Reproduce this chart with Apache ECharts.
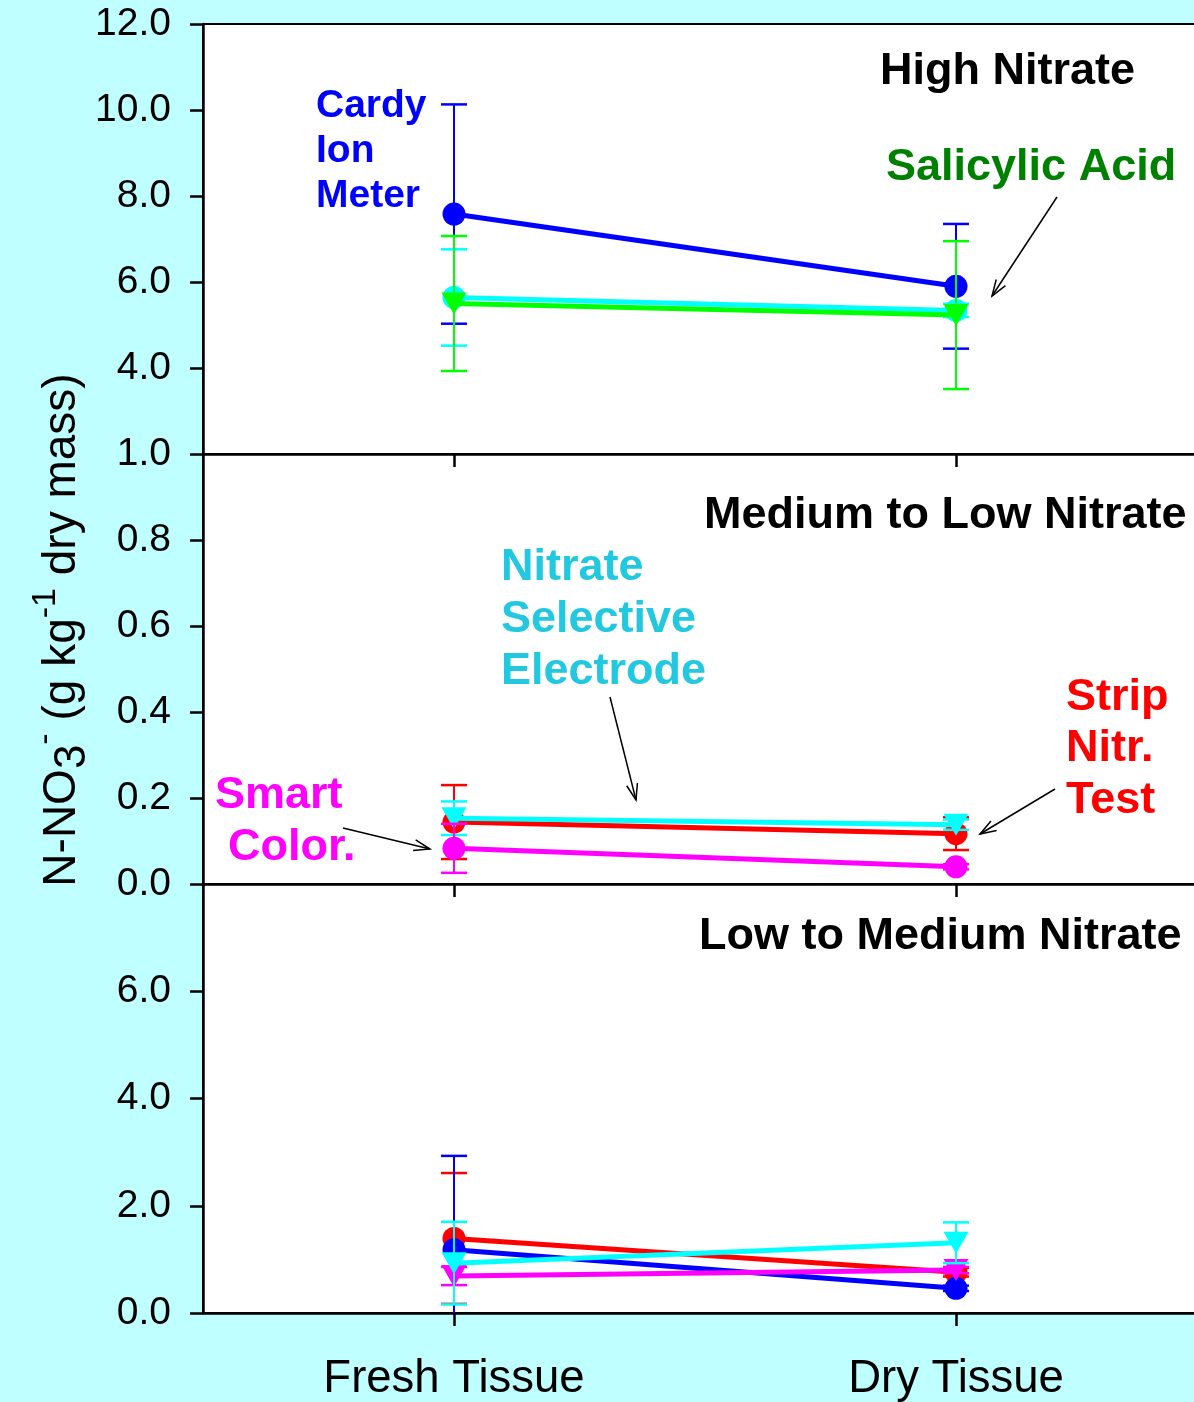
<!DOCTYPE html>
<html>
<head>
<meta charset="utf-8">
<title>N-NO3 by tissue type and method</title>
<script src="https://cdn.jsdelivr.net/npm/echarts@6/dist/echarts.min.js"></script>
<style>
  html, body { margin: 0; padding: 0; background: #bfffff; }
  #chart { width: 1194px; height: 1402px; }
</style>
</head>
<body>
<div id="chart"></div>
<script>
// Tissue categories on the x axis
const categories = ['Fresh Tissue', 'Dry Tissue'];

// Y-axis tick values per panel
const highTicks = [2, 4, 6, 8, 10, 12];
const mediumTicks = [0, 0.2, 0.4, 0.6, 0.8, 1.0];
const lowTicks = [0, 2, 4, 6, 8];

// High Nitrate panel: means and error (± half range)
const highCardy = [7.58, 5.90];
const highCardyErr = [2.55, 1.45];
const highIse = [5.64, 5.34];
const highIseErr = [1.12, 0.155];
const highSalicylic = [5.50, 5.23];
const highSalicylicErr = [1.57, 1.72];

// Medium to Low Nitrate panel
const medStrip = [0.144, 0.117];
const medStripErr = [0.086, 0.038];
const medIse = [0.153, 0.138];
const medIseErr = [0.039, 0.012];
const medSmart = [0.083, 0.040];
const medSmartErr = [0.057, 0.006];

// Low to Medium Nitrate panel
const lowStrip = [1.39, 0.76];
const lowStripErr = [1.22, 0.08];
const lowCardy = [1.18, 0.46];
const lowCardyErr = [1.75, 0.05];
const lowSmart = [0.69, 0.80];
const lowSmartErr = [0.17, 0.06];
const lowIse = [0.93, 1.31];
const lowIseErr = [0.77, 0.38];

const FONT = '"Liberation Sans", Arial, Helvetica, sans-serif';
const BLUE = '#0000ff', CYAN = '#00ffff', GREEN = '#00ff00', RED = '#ff0000', MAGENTA = '#ff00ff';

const chart = echarts.init(document.getElementById('chart'), null, { renderer: 'canvas' });

const panels = [
  { top: 24, height: 430, ticks: highTicks, showMin: false, showMax: true },
  { top: 454, height: 430, ticks: mediumTicks, showMin: true, showMax: true },
  { top: 884, height: 429, ticks: lowTicks, showMin: true, showMax: false }
];

const grids = panels.map(p => ({
  left: 203, top: p.top, width: 1004, height: p.height,
  show: true, backgroundColor: '#ffffff', borderColor: '#000000', borderWidth: 2,
  outerBoundsMode: 'none', containLabel: false
}));

const xAxes = panels.map((p, i) => ({
  type: 'category', gridIndex: i, data: categories, boundaryGap: true,
  axisLine: { show: true, lineStyle: { color: '#000', width: 2.5 } },
  axisTick: { show: true, alignWithLabel: true, length: 13, lineStyle: { color: '#000', width: 2.5 } },
  axisLabel: { show: i === 2, margin: 43, fontSize: 45.5, color: '#000', fontFamily: FONT },
  splitLine: { show: false }
}));

const yAxes = panels.map((p, i) => ({
  type: 'value', gridIndex: i,
  min: p.ticks[0], max: p.ticks[p.ticks.length - 1], interval: p.ticks[1] - p.ticks[0],
  axisLine: { show: true, lineStyle: { color: '#000', width: 2.5 } },
  axisTick: { show: true, inside: false, length: 13, lineStyle: { color: '#000', width: 2.5 } },
  axisLabel: {
    margin: 32, fontSize: 39, color: '#000', fontFamily: FONT,
    showMinLabel: p.showMin, showMaxLabel: p.showMax,
    formatter: v => v.toFixed(1)
  },
  splitLine: { show: false }
}));

// Vertical error bar with caps; the lower end is clipped to the axis minimum
function errorBars(color, axisMin) {
  return function (params, api) {
    const x = api.value(0), v = api.value(1), e = api.value(2);
    const hi = api.coord([x, v + e]);
    const lowVal = v - e;
    const lo = api.coord([x, Math.max(lowVal, axisMin)]);
    const half = 13;
    const st = { stroke: color, lineWidth: 2.5 };
    const children = [
      { type: 'line', shape: { x1: hi[0], y1: hi[1], x2: lo[0], y2: lo[1] }, style: { stroke: color, lineWidth: 2 } },
      { type: 'line', shape: { x1: hi[0] - half, y1: hi[1], x2: hi[0] + half, y2: hi[1] }, style: st }
    ];
    if (lowVal >= axisMin) {
      children.push({ type: 'line', shape: { x1: lo[0] - half, y1: lo[1], x2: lo[0] + half, y2: lo[1] }, style: st });
    }
    return { type: 'group', children };
  };
}

let zBase = 2;
function plot(panel, values, errors, color, shape) {
  const axisMin = panels[panel].ticks[0];
  const sym = shape === 'circle'
    ? { symbol: 'circle', symbolSize: 23, symbolRotate: 0 }
    : { symbol: 'triangle', symbolSize: [25, 22], symbolRotate: 180 };
  const out = [
    {
      type: 'line', xAxisIndex: panel, yAxisIndex: panel, data: values,
      symbol: sym.symbol, symbolSize: sym.symbolSize, symbolRotate: sym.symbolRotate,
      showAllSymbol: true,
      lineStyle: { color: color, width: 5 },
      itemStyle: { color: color, borderWidth: 0 },
      z: zBase, animation: false, silent: true
    },
    {
      type: 'custom', xAxisIndex: panel, yAxisIndex: panel,
      data: values.map((v, i) => [i, v, errors[i]]),
      encode: { x: 0, y: 1 },
      renderItem: errorBars(color, axisMin),
      z: zBase + 1, animation: false, silent: true
    }
  ];
  zBase += 2;
  return out;
}

const series = [].concat(
  plot(0, highCardy, highCardyErr, BLUE, 'circle'),
  plot(0, highIse, highIseErr, CYAN, 'circle'),
  plot(0, highSalicylic, highSalicylicErr, GREEN, 'triangle'),
  plot(1, medStrip, medStripErr, RED, 'circle'),
  plot(1, medIse, medIseErr, CYAN, 'triangle'),
  plot(1, medSmart, medSmartErr, MAGENTA, 'circle'),
  plot(2, lowStrip, lowStripErr, RED, 'circle'),
  plot(2, lowCardy, lowCardyErr, BLUE, 'circle'),
  plot(2, lowSmart, lowSmartErr, MAGENTA, 'triangle'),
  plot(2, lowIse, lowIseErr, CYAN, 'triangle')
);

function label(text, x, y, color, size) {
  return {
    type: 'text', z: 100,
    style: {
      text: text, x: x, y: y, fill: color,
      fontSize: size || 45, fontWeight: 'bold', fontFamily: FONT,
      align: 'left', verticalAlign: 'middle'
    }
  };
}

function arrow(x1, y1, x2, y2) {
  const ang = Math.atan2(y2 - y1, x2 - x1);
  const len = 17, spread = 0.33;
  const a1 = [x2 - len * Math.cos(ang - spread), y2 - len * Math.sin(ang - spread)];
  const a2 = [x2 - len * Math.cos(ang + spread), y2 - len * Math.sin(ang + spread)];
  return [
    { type: 'line', z: 100, shape: { x1, y1, x2, y2 }, style: { stroke: '#000', lineWidth: 1.5 } },
    { type: 'polyline', z: 100, shape: { points: [a1, [x2, y2], a2] }, style: { stroke: '#000', lineWidth: 1.5, fill: null } }
  ];
}

const graphics = [
  label('High Nitrate', 880, 72, '#000'),
  label('Medium to Low Nitrate', 704, 516, '#000'),
  label('Low to Medium Nitrate', 699, 937, '#000'),
  label('Cardy', 316, 106, BLUE, 39),
  label('Ion', 316, 151, BLUE, 39),
  label('Meter', 316, 196, BLUE, 39),
  label('Salicylic Acid', 886, 168, '#008000'),
  label('Nitrate', 501, 568, '#22c8e0'),
  label('Selective', 501, 620, '#22c8e0'),
  label('Electrode', 501, 672, '#22c8e0'),
  label('Strip', 1066, 698, RED),
  label('Nitr.', 1066, 749, RED),
  label('Test', 1066, 801, RED),
  label('Smart', 215, 796, MAGENTA),
  label('Color.', 228, 848, MAGENTA),
  {
    type: 'text', z: 100, x: 62, y: 630, rotation: Math.PI / 2,
    style: {
      text: '{m|N-NO}{sub|3}{sup|-}{m| (g kg}{sup|-1}{m| dry mass)}',
      x: 0, y: 0, align: 'center', verticalAlign: 'middle', fill: '#000',
      rich: {
        m: { fontSize: 46, fontFamily: FONT, lineHeight: 66, fill: '#000' },
        sub: { fontSize: 44, fontFamily: FONT, lineHeight: 52, verticalAlign: 'bottom', fill: '#000' },
        sup: { fontSize: 34, fontFamily: FONT, lineHeight: 34, verticalAlign: 'top', fill: '#000' }
      }
    }
  }
].concat(
  arrow(1057, 197, 992, 296),
  arrow(610, 697, 636, 800),
  arrow(1055, 789, 980, 834),
  arrow(343, 828, 430, 849)
);

chart.setOption({
  backgroundColor: '#bfffff',
  animation: false,
  grid: grids,
  xAxis: xAxes,
  yAxis: yAxes,
  series: series,
  graphic: graphics
});
</script>
</body>
</html>
